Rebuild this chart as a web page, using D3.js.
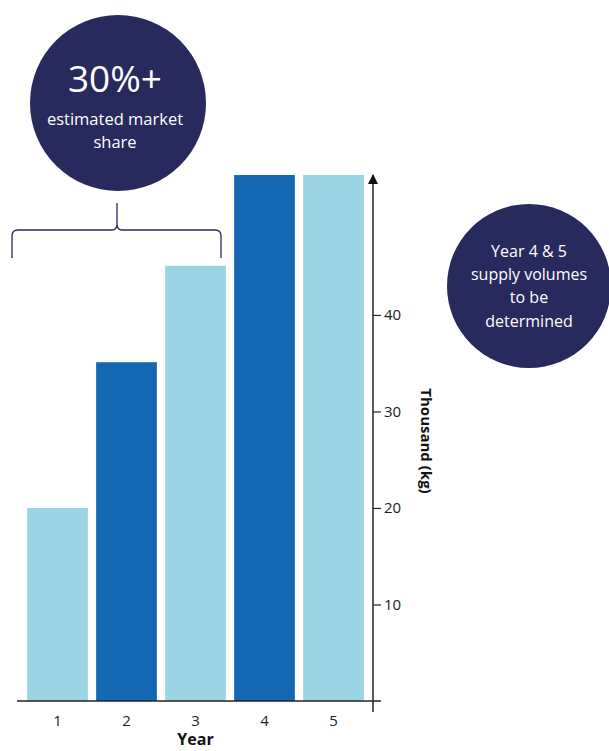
<!DOCTYPE html>
<html>
<head>
<meta charset="utf-8">
<script src="https://cdn.jsdelivr.net/npm/d3@7"></script>
<style>
  body { margin: 0; background: #fff; }
  svg { font-family: "Open Sans", sans-serif; }
</style>
</head>
<body>
<div id="chart"></div>
<script>
var years = ["1", "2", "3", "4", "5"];
var volumes = [20, 35.1, 45.1, 54.5, 54.5];
var barColors = ["#9bd4e3", "#1467b1", "#9bd4e3", "#1467b1", "#9bd4e3"];
var yTicks = [10, 20, 30, 40];
var navy = "#28295c";

function init() {
    var w = 609, h = 751;
    var font = "'Open Sans', sans-serif";

    var svg = d3.select("#chart")
        .append("svg")
        .attr("width", w)
        .attr("height", h);

    var xScale = d3.scaleBand()
        .domain(years)
        .range([23, 368])
        .paddingInner(0.12)
        .paddingOuter(0.06);

    var yScale = d3.scaleLinear()
        .domain([0, 54.5])
        .range([701, 175]);

    // bars
    svg.selectAll("rect.bar")
        .data(years)
        .enter()
        .append("rect")
        .attr("class", "bar")
        .attr("x", d => xScale(d))
        .attr("width", xScale.bandwidth())
        .attr("y", (d, i) => yScale(volumes[i]))
        .attr("height", (d, i) => yScale(0) - yScale(volumes[i]))
        .attr("fill", (d, i) => barColors[i]);

    // x axis
    svg.append("line")
        .attr("x1", 17).attr("x2", 381)
        .attr("y1", yScale(0)).attr("y2", yScale(0))
        .attr("stroke", "#222").attr("stroke-width", 1.5);

    var xAxis = svg.append("g")
        .attr("transform", `translate(0, ${yScale(0)})`)
        .call(d3.axisBottom(xScale).tickSize(0).tickPadding(14));
    xAxis.select(".domain").remove();
    xAxis.selectAll("text")
        .attr("font-family", font)
        .attr("font-size", 15)
        .attr("fill", "#222");

    svg.append("text")
        .attr("x", xScale("3") + xScale.bandwidth() / 2)
        .attr("y", 745)
        .attr("text-anchor", "middle")
        .attr("font-weight", "bold")
        .attr("font-size", 16)
        .attr("fill", "#111")
        .text("Year");

    // y axis with arrow
    var ax = 373;
    svg.append("defs").append("marker")
        .attr("id", "arrow")
        .attr("viewBox", "0 0 10 10")
        .attr("refX", 9).attr("refY", 5)
        .attr("markerWidth", 10).attr("markerHeight", 11)
        .attr("markerUnits", "userSpaceOnUse")
        .attr("orient", "auto")
        .append("path")
        .attr("d", "M0,0 L10,5 L0,10 z")
        .attr("fill", "#111");

    svg.append("line")
        .attr("x1", ax).attr("x2", ax)
        .attr("y1", 712).attr("y2", yScale(54.5))
        .attr("stroke", "#222").attr("stroke-width", 1.5)
        .attr("marker-end", "url(#arrow)");

    var yAxis = svg.append("g")
        .attr("transform", `translate(${ax}, 0)`)
        .call(d3.axisRight(yScale).tickValues(yTicks).tickSize(8).tickPadding(3));
    yAxis.select(".domain").remove();
    yAxis.selectAll("line").attr("stroke", "#222").attr("stroke-width", 1.2);
    yAxis.selectAll("text")
        .attr("font-family", font)
        .attr("font-size", 15)
        .attr("fill", "#222");

    svg.append("text")
        .attr("transform", "translate(421, 441) rotate(90)")
        .attr("text-anchor", "middle")
        .attr("font-weight", "bold")
        .attr("font-size", 15)
        .attr("fill", "#111")
        .text("Thousand (kg)");

    // brace over years 1-3
    var bx0 = 12, bx1 = 221, bxm = 117, by = 230;
    svg.append("path")
        .attr("d", `M${bx0},258 L${bx0},${by + 6} Q${bx0},${by} ${bx0 + 6},${by}
                    L${bxm - 5},${by} Q${bxm},${by} ${bxm},${by - 6} L${bxm},203
                    M${bxm},${by - 6} Q${bxm},${by} ${bxm + 5},${by}
                    L${bx1 - 6},${by} Q${bx1},${by} ${bx1},${by + 6} L${bx1},258`)
        .attr("fill", "none")
        .attr("stroke", navy)
        .attr("stroke-width", 1.3);

    // circle callout left
    svg.append("circle")
        .attr("cx", 118).attr("cy", 103).attr("r", 88)
        .attr("fill", navy);
    svg.append("text")
        .attr("x", 115).attr("y", 92)
        .attr("text-anchor", "middle")
        .attr("font-size", 37)
        .attr("fill", "#fff")
        .text("30%+");
    svg.append("text")
        .attr("x", 115).attr("y", 125)
        .attr("text-anchor", "middle")
        .attr("font-size", 16.5)
        .attr("fill", "#fff")
        .text("estimated market");
    svg.append("text")
        .attr("x", 115).attr("y", 148)
        .attr("text-anchor", "middle")
        .attr("font-size", 16.5)
        .attr("fill", "#fff")
        .text("share");

    // circle callout right
    svg.append("circle")
        .attr("cx", 529).attr("cy", 286).attr("r", 82)
        .attr("fill", navy);
    var lines = ["Year 4 & 5", "supply volumes", "to be", "determined"];
    var baselines = [257, 280, 303, 327];
    lines.forEach(function(t, i) {
        svg.append("text")
            .attr("x", 529).attr("y", baselines[i])
            .attr("text-anchor", "middle")
            .attr("font-size", 16)
            .attr("fill", "#fff")
            .text(t);
    });
}

window.onload = init;
</script>
</body>
</html>
